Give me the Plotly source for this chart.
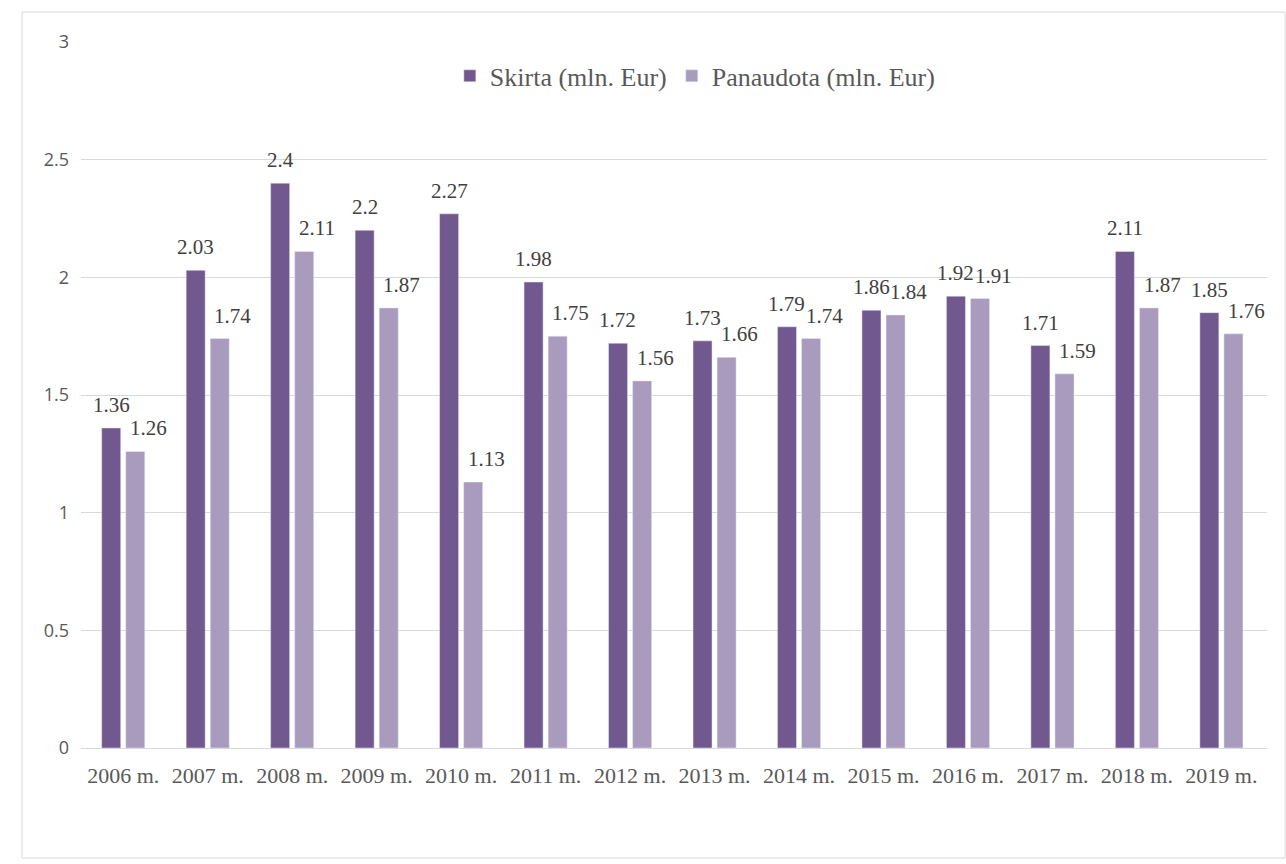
import plotly.graph_objects as go

years = ["2006 m.", "2007 m.", "2008 m.", "2009 m.", "2010 m.", "2011 m.", "2012 m.",
         "2013 m.", "2014 m.", "2015 m.", "2016 m.", "2017 m.", "2018 m.", "2019 m."]
skirta = [1.36, 2.03, 2.4, 2.2, 2.27, 1.98, 1.72, 1.73, 1.79, 1.86, 1.92, 1.71, 2.11, 1.85]
panaudota = [1.26, 1.74, 2.11, 1.87, 1.13, 1.75, 1.56, 1.66, 1.74, 1.84, 1.91, 1.59, 1.87, 1.76]
yticks = [0, 0.5, 1, 1.5, 2, 2.5, 3]

serif = "Liberation Serif"
dark = "#71588F"
light = "#A99BBD"

fig = go.Figure()
fig.add_trace(go.Bar(name="Skirta (mln. Eur)", x=years, y=skirta, marker_color=dark))
fig.add_trace(go.Bar(name="Panaudota (mln. Eur)", x=years, y=panaudota, marker_color=light))

annotations = []
half = 12.1
for yr, v in zip(years, skirta):
    annotations.append(dict(x=yr, y=v, xref="x", yref="y", text=str(v), showarrow=False,
                            xanchor="center", yanchor="bottom", xshift=-half, yshift=9,
                            font=dict(family=serif, size=21, color="#404040")))
for yr, v in zip(years, panaudota):
    annotations.append(dict(x=yr, y=v, xref="x", yref="y", text=str(v), showarrow=False,
                            xanchor="center", yanchor="bottom", xshift=half + 13, yshift=9,
                            font=dict(family=serif, size=21, color="#404040")))

fig.update_layout(
    width=1286, height=864,
    margin=dict(l=81, r=19, t=42, b=116),
    paper_bgcolor="white", plot_bgcolor="white",
    barmode="group", bargap=0.43, bargroupgap=0.21,
    font=dict(family=serif),
    legend=dict(orientation="h", x=0.518, xanchor="center", y=0.952, yanchor="middle",
                font=dict(family=serif, size=26, color="#595959"), itemwidth=30,
                traceorder="normal"),
    xaxis=dict(tickfont=dict(family=serif, size=22, color="#595959"), showline=True,
               linecolor="#d9d9d9", linewidth=1, ticks="", ticklabelstandoff=8),
    yaxis=dict(range=[0, 3], tickvals=yticks, ticktext=[str(v) for v in yticks],
               tickfont=dict(family="Open Sans", size=18, color="#595959"),
               showgrid=True, gridcolor="#d9d9d9", zeroline=False, ticklabelstandoff=11),
    showlegend=True,
    annotations=annotations,
    shapes=[dict(type="rect", xref="paper", yref="paper", x0=-0.0497, x1=1.0152,
                 y0=-0.1558, y1=1.0425, line=dict(color="#d9d9d9", width=1), layer="below")],
)
fig.write_html("out.html", config={"displayModeBar": False},
               post_script="document.body.style.margin='0';")
